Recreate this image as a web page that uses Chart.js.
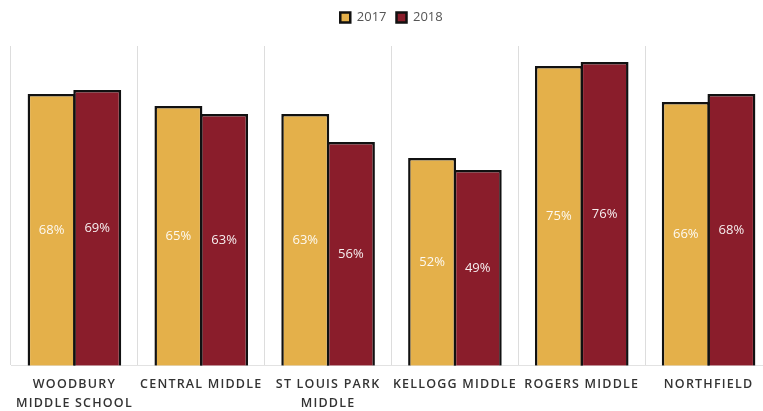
<!DOCTYPE html>
<html>
<head>
<meta charset="utf-8">
<script src="https://cdn.jsdelivr.net/npm/chart.js@4.4.1/dist/chart.umd.min.js"></script>
<style>
  html, body { margin: 0; padding: 0; background: #ffffff; overflow: hidden; }
  #wrap { width: 784px; height: 411px; position: relative; }
</style>
</head>
<body>
<div id="wrap"><canvas id="c"></canvas></div>
<script>
const categories = [
  ['WOODBURY', 'MIDDLE SCHOOL'],
  ['CENTRAL MIDDLE'],
  ['ST LOUIS PARK', 'MIDDLE'],
  ['KELLOGG MIDDLE'],
  ['ROGERS MIDDLE'],
  ['NORTHFIELD']
];
const seriesNames = ['2017', '2018'];
const values2017 = [68, 65, 63, 52, 75, 66];
const values2018 = [69, 63, 56, 49, 76, 68];
const yMin = 0;
const yMax = 80;

const GOLD = '#E4B04A';
const MAROON = '#8A1D2B';

const legendGap = {
  id: 'legendGap',
  beforeInit(chart) {
    const origFit = chart.legend.fit;
    chart.legend.fit = function () {
      origFit.bind(chart.legend)();
      this.height += 12;
    };
  }
};

const spacedTicks = {
  id: 'spacedTicks',
  beforeDraw(chart) {
    const sc = chart.scales.x;
    if (sc && !sc._spacedWrapped) {
      const orig = sc.drawLabels;
      sc.drawLabels = function (area) {
        const ctx = this.ctx;
        ctx.save();
        ctx.letterSpacing = '1.2px';
        orig.call(this, area);
        ctx.restore();
      };
      sc._spacedWrapped = true;
    }
  }
};

const centerLabels = {
  id: 'centerLabels',
  afterDatasetsDraw(chart) {
    const ctx = chart.ctx;
    ctx.save();
    ctx.font = '13px "Open Sans"';
    ctx.fillStyle = 'rgba(255,255,255,0.92)';
    ctx.textAlign = 'center';
    ctx.textBaseline = 'middle';
    chart.data.datasets.forEach((ds, i) => {
      const meta = chart.getDatasetMeta(i);
      meta.data.forEach((bar, j) => {
        const y = (bar.y + bar.base) / 2;
        ctx.fillText(ds.data[j] + '%', bar.x, y);
      });
    });
    ctx.restore();
  }
};

new Chart(document.getElementById('c'), {
  type: 'bar',
  data: {
    labels: categories,
    datasets: [
      {
        label: seriesNames[0],
        data: values2017,
        backgroundColor: GOLD,
        borderColor: '#111111',
        borderWidth: 2.5,
        categoryPercentage: 0.72,
        barPercentage: 1.05
      },
      {
        label: seriesNames[1],
        data: values2018,
        backgroundColor: MAROON,
        borderColor: '#111111',
        borderWidth: 2.5,
        categoryPercentage: 0.72,
        barPercentage: 1.05
      }
    ]
  },
  options: {
    responsive: true,
    maintainAspectRatio: false,
    animation: false,
    devicePixelRatio: 1,
    layout: { padding: { left: 11, right: 12, top: 1, bottom: -11 } },
    plugins: {
      legend: {
        position: 'top',
        labels: {
          boxWidth: 10,
          boxHeight: 10,
          padding: 10,
          color: '#555555',
          font: { family: '"Open Sans"', size: 13 }
        }
      },
      tooltip: { enabled: false }
    },
    scales: {
      x: {
        grid: {
          display: true,
          offset: true,
          color: '#dddddd',
          lineWidth: 1,
          drawTicks: false
        },
        border: { display: true, color: '#e2e2e2' },
        ticks: {
          color: '#333333',
          padding: 10,
          maxRotation: 0,
          autoSkip: false,
          font: { family: '"Open Sans"', size: 12.5, weight: '600', lineHeight: 1.45 }
        }
      },
      y: {
        display: false,
        min: yMin,
        max: yMax
      }
    }
  },
  plugins: [legendGap, spacedTicks, centerLabels]
});
</script>
</body>
</html>
